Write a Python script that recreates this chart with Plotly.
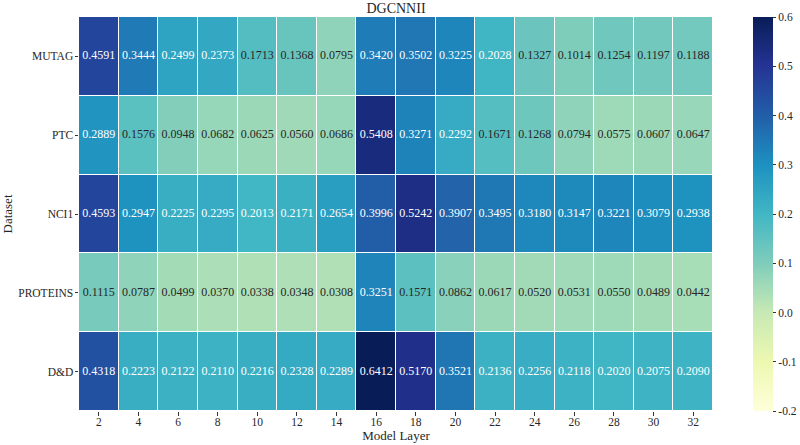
import plotly.graph_objects as go

layers = [2, 4, 6, 8, 10, 12, 14, 16, 18, 20, 22, 24, 26, 28, 30, 32]
datasets = ["MUTAG", "PTC", "NCI1", "PROTEINS", "D&D"]

mutag = [0.4591, 0.3444, 0.2499, 0.2373, 0.1713, 0.1368, 0.0795, 0.3420, 0.3502, 0.3225, 0.2028, 0.1327, 0.1014, 0.1254, 0.1197, 0.1188]
ptc = [0.2889, 0.1576, 0.0948, 0.0682, 0.0625, 0.0560, 0.0686, 0.5408, 0.3271, 0.2292, 0.1671, 0.1268, 0.0794, 0.0575, 0.0607, 0.0647]
nci1 = [0.4593, 0.2947, 0.2225, 0.2295, 0.2013, 0.2171, 0.2654, 0.3996, 0.5242, 0.3907, 0.3495, 0.3180, 0.3147, 0.3221, 0.3079, 0.2938]
proteins = [0.1115, 0.0787, 0.0499, 0.0370, 0.0338, 0.0348, 0.0308, 0.3251, 0.1571, 0.0862, 0.0617, 0.0520, 0.0531, 0.0550, 0.0489, 0.0442]
dd = [0.4318, 0.2223, 0.2122, 0.2110, 0.2216, 0.2328, 0.2289, 0.6412, 0.5170, 0.3521, 0.2136, 0.2256, 0.2118, 0.2020, 0.2075, 0.2090]

z = [mutag, ptc, nci1, proteins, dd]
xlab = [str(v) for v in layers]

cbar_vals = [-0.2, -0.1, 0.0, 0.1, 0.2, 0.3, 0.4, 0.5, 0.6]
cbar_text = ["-0.2", "-0.1", "0.0", "0.1", "0.2", "0.3", "0.4", "0.5", "0.6"]

FONT = "Liberation Serif"
TXT = "#262626"

fig = go.Figure()
fig.add_trace(go.Heatmap(
    z=z, x=xlab, y=datasets,
    colorscale="YlGnBu", zmin=-0.2, zmax=0.6,
    xgap=1, ygap=1,
    colorbar=dict(
        x=1.063, xanchor="left", xpad=0,
        y=0.5, yanchor="middle", ypad=0,
        len=1.0, lenmode="fraction", thickness=20,
        outlinewidth=0,
        tickvals=cbar_vals, ticktext=cbar_text,
        ticks="outside", ticklen=3.5, tickcolor="#333",
        tickfont=dict(family=FONT, size=11.5, color=TXT),
    ),
    hoverinfo="skip",
))

tx, ty, tt, tc = [], [], [], []
for i, ds in enumerate(datasets):
    for j, lx in enumerate(xlab):
        v = z[i][j]
        tx.append(lx)
        ty.append(ds)
        tt.append(f"{v:.4f}")
        tc.append("white" if v >= 0.2 else TXT)

fig.add_trace(go.Scatter(
    x=tx, y=ty, text=tt, mode="text",
    textfont=dict(family=FONT, size=12, color=tc),
    showlegend=False, hoverinfo="skip",
))

fig.update_layout(
    width=800, height=445,
    margin=dict(l=79, r=87, t=17, b=34, autoexpand=False),
    paper_bgcolor="white", plot_bgcolor="white",
    title=dict(text="DGCNNII", x=(79 + 713) / 2 / 800, xanchor="center",
               y=1 - 8 / 445, yanchor="middle",
               font=dict(family=FONT, size=14, color=TXT)),
    xaxis=dict(type="category", automargin=False, categoryorder="array", categoryarray=xlab,
               range=[-0.5, len(xlab) - 0.5],
               title=dict(text="Model Layer", font=dict(family=FONT, size=13, color=TXT), standoff=2),
               ticks="outside", ticklen=3.5, tickcolor="#333", showgrid=False, zeroline=False,
               ticklabelstandoff=-3,
               tickfont=dict(family=FONT, size=11.5, color=TXT), showline=False),
    yaxis=dict(type="category", automargin=False,
               categoryorder="array", categoryarray=datasets,
               range=[len(datasets) - 0.5, -0.5],
               title=dict(text="Dataset", font=dict(family=FONT, size=13, color=TXT), standoff=6),
               ticks="outside", ticklen=3.5, tickcolor="#333", showgrid=False, zeroline=False,
               ticklabelstandoff=-1,
               tickfont=dict(family=FONT, size=11.5, color=TXT), showline=False),
)

fig.write_html("out.html", config={"displayModeBar": False},
               post_script="document.body.style.margin='0px';document.body.style.overflow='hidden';")
